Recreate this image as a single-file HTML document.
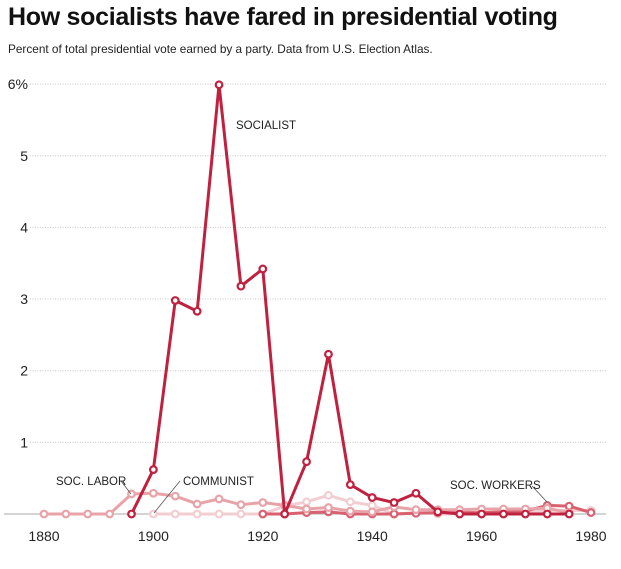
<!DOCTYPE html>
<html><head><meta charset="utf-8">
<style>
body{margin:0;background:#fff;font-family:"Liberation Sans",sans-serif;}
#wrap{position:relative;width:621px;height:569px;overflow:hidden;}
h1{position:absolute;left:8px;top:3px;margin:0;font-size:25px;font-weight:bold;letter-spacing:-0.3px;color:#111;}
.sub{position:absolute;left:8px;top:42px;font-size:11.8px;color:#222;}
svg{position:absolute;left:0;top:0;}
</style></head><body>
<div id="wrap">
<h1>How socialists have fared in presidential voting</h1>
<div class="sub">Percent of total presidential vote earned by a party. Data from U.S. Election Atlas.</div>
<svg id="chart" width="621" height="569"></svg>
</div>
<script>
const years = [1880,1884,1888,1892,1896,1900,1904,1908,1912,1916,1920,1924,1928,1932,1936,1940,1944,1948,1952,1956,1960,1964,1968,1972,1976,1980];
const communistYears = [1900,1904,1908,1912,1916,1920,1924,1928,1932,1936,1940,1944,1948,1952,1956,1960,1964,1968,1972,1976,1980];
const communist = [0,0,0,0,0,0,0.11,0.17,0.26,0.17,0.12,0,0.02,0,0,0,0,0.01,0.05,0.05,0.05];
const socLaborYears = [1880,1884,1888,1892,1896,1900,1904,1908,1912,1916,1920,1924,1928,1932,1936,1940,1944,1948,1952,1956,1960,1964,1968,1972,1976];
const socLabor = [0,0,0,0,0.28,0.29,0.25,0.14,0.21,0.13,0.16,0.12,0.07,0.09,0.04,0.03,0.1,0.06,0.06,0.06,0.07,0.07,0.07,0.08,0.02];
const socWorkersYears = [1920,1924,1928,1932,1936,1940,1944,1948,1952,1956,1960,1964,1968,1972,1976,1980];
const socWorkers = [0,0,0.02,0.03,0,0,0,0.01,0.02,0.02,0.02,0.03,0.04,0.12,0.11,0.02];
const socialistYears = [1896,1900,1904,1908,1912,1916,1920,1924,1928,1932,1936,1940,1944,1948,1952,1956,1960,1964,1968,1972,1976];
const socialist = [0,0.62,2.98,2.83,5.99,3.18,3.42,0,0.73,2.23,0.41,0.23,0.16,0.29,0.03,0,0,0,0,0,0];
const yTicks = [1,2,3,4,5,6];
const xTicks = [1880,1900,1920,1940,1960,1980];

const NS="http://www.w3.org/2000/svg";
const svg=document.getElementById('chart');
const x=y=>44+(y-1880)*5.47;
const yy=v=>514-v*71.65;
function mk(t,a,p){const e=document.createElementNS(NS,t);for(const k in a)e.setAttribute(k,a[k]);(p||svg).appendChild(e);return e;}

yTicks.forEach(t=>{
  const g=mk('line',{x1:30,x2:606,y1:yy(t),y2:yy(t),stroke:'#c8c8c8','stroke-dasharray':'1,1.5','stroke-width':1});
  
  
  const l=mk('text',{x:28,y:yy(t)+5,'text-anchor':'end','font-size':14,fill:'#222'});
  l.textContent=t===6?'6%':String(t);
  
  
});
const base=mk('line',{x1:4,x2:606,y1:514,y2:514,stroke:'#aaa','stroke-width':1});


xTicks.forEach(t=>{
  const l=mk('text',{x:x(t),y:541,'text-anchor':'middle','font-size':14,fill:'#222'});
  l.textContent=t;
  
  
});

function series(ys,vs,color,name){
  const g=mk('g',{});
  
  
  const p=mk('polyline',{points:ys.map((y,i)=>x(y)+','+yy(vs[i])).join(' '),fill:'none',stroke:color,'stroke-width':3,'stroke-linejoin':'round'},g);
  
  
  ys.forEach((y,i)=>{
    const c=mk('circle',{cx:x(y),cy:yy(vs[i]),r:3.3,fill:'#fff',stroke:color,'stroke-width':2.2},g);
    
    
  });
}
series(communistYears,communist,'#f2cdd1','communist');
series(socWorkersYears,socWorkers,'#d9606f','soc-workers');
series(socLaborYears,socLabor,'#e8a3a9','soc-labor');
series(socialistYears,socialist,'#c0213f','socialist');

function label(t,lx,ly,name){const e=mk('text',{x:lx,y:ly,'font-size':11.5,fill:'#222'});e.textContent=t;}
label('SOCIALIST',236,129,'socialist-label');
label('SOC. LABOR',56,485,'soc-labor-label');
label('COMMUNIST',183,485,'communist-label');
label('SOC. WORKERS',450,489,'soc-workers-label');
[[121,481,131,494],[180,481,154,513],[532,486,547,502]].forEach(a=>{
  const l=mk('line',{x1:a[0],y1:a[1],x2:a[2],y2:a[3],stroke:'#555','stroke-width':0.8});
  
  
});
</script>
</body></html>
